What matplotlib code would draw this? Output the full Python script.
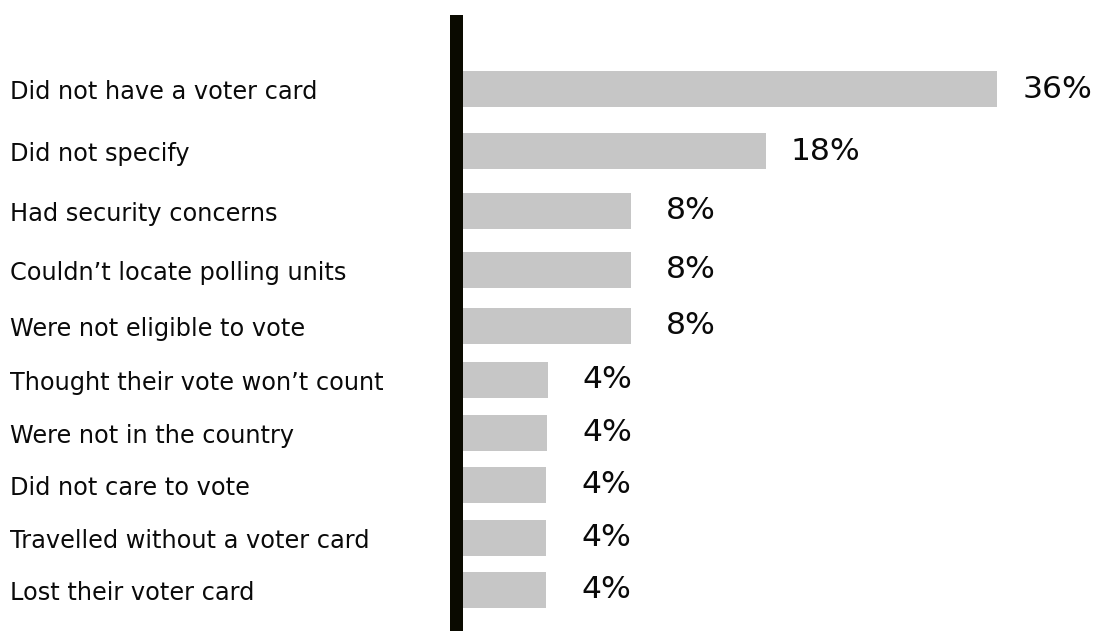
import matplotlib.pyplot as plt

reasons = ["Did not have a voter card", "Did not specify", "Had security concerns",
           "Couldn\u2019t locate polling units", "Were not eligible to vote",
           "Thought their vote won\u2019t count", "Were not in the country",
           "Did not care to vote", "Travelled without a voter card", "Lost their voter card"]
pct_labels = ["36%", "18%", "8%", "8%", "8%", "4%", "4%", "4%", "4%", "4%"]
# bar lengths as drawn in the picture, on the scale where the top bar = 36
bar_values = [36, 20.4, 11.3, 11.3, 11.3, 5.7, 5.66, 5.6, 5.6, 5.6]

# layout: row centres in pixels from the top
row_y = [89, 151, 210.5, 269.5, 326, 379.5, 432.5, 484.5, 537.5, 589.5]

W, H = 1104, 631
x0 = 463          # pixel where bars start
s = 534 / 36      # pixels per unit

fig = plt.figure(figsize=(W / 100, H / 100), dpi=100)
ax = fig.add_axes([0, 0, 1, 1])
ax.set_xlim(-x0 / s, (W - x0) / s)
ax.set_ylim(H, 0)
ax.axis("off")

ax.barh(row_y, bar_values, height=36, left=0, color="#c6c6c6")
ax.axvspan(-13 / s, 0, ymin=0, ymax=(H - 15) / H, color="#0a0a00", lw=0)

for y, name, v, lab in zip(row_y, reasons, bar_values, pct_labels):
    ax.annotate(name, (10 / W, y), xycoords=ax.get_yaxis_transform(), xytext=(0, -2.2),
                textcoords="offset points", ha="left", va="center",
                fontsize=17.3, color="#0a0a0a", family="DejaVu Sans")
    ax.annotate(lab, (v, y), xytext=(43.2, 0), textcoords="offset points",
                ha="center", va="center", fontsize=22.6, color="#0a0a0a", family="DejaVu Sans")

fig.savefig("out.png", dpi=100)
